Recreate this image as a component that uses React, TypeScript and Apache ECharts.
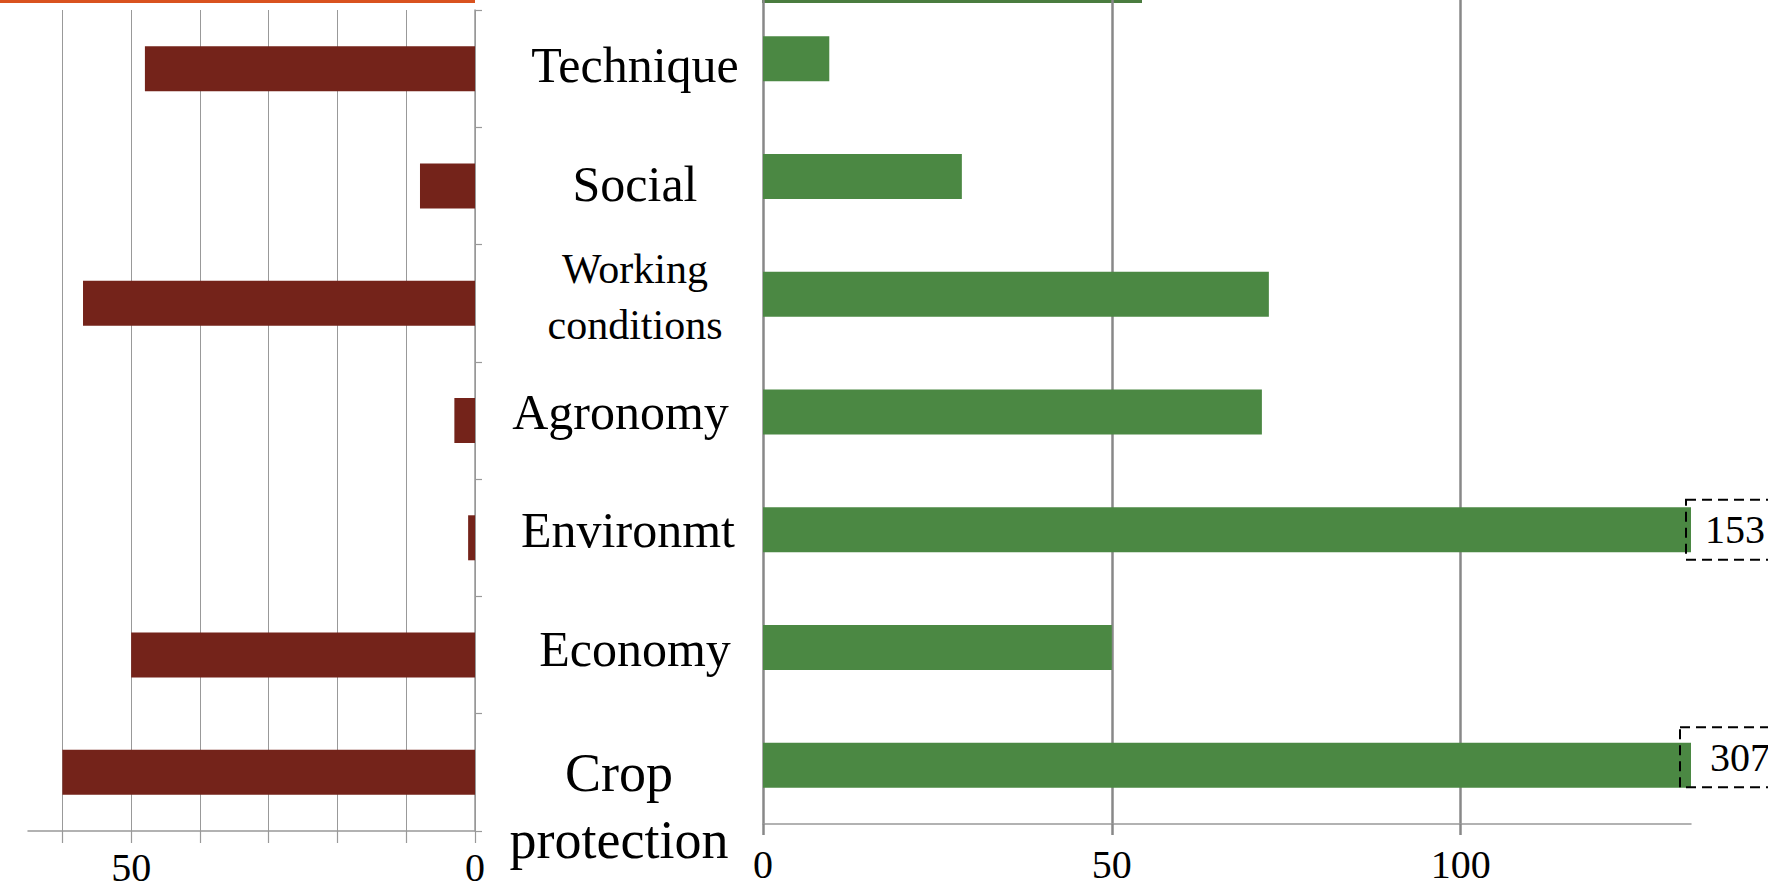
import React, { useEffect, useRef } from "react";
import * as echarts from "echarts";

const categories = [
  "Technique",
  "Social",
  "Working\nconditions",
  "Agronomy",
  "Environmt",
  "Economy",
  "Crop\nprotection",
];
const leftValues = [48, 8, 57, 3, 1, 50, 60];
const rightValues = [9.5, 28.5, 72.5, 71.5, 153, 50, 307];
const leftTicks = [0, 10, 20, 30, 40, 50, 60];
const leftLabels = [0, 50];
const rightTicks = [0, 50, 100];

const FONT = "Liberation Serif";
const BROWN = "#74231a";
const GREEN = "#4b8843";

// rich-text style per category (font size / small placement tweaks)
const labelStyleKeys = ["tq", "so", "wc", "ag", "en", "ec", "cp"];
const labelGapKeys = ["g12", "g14", "g6", "", "", "g4", "g83"];

function labelText(value: string, index: number) {
  const key = labelStyleKeys[index];
  const gap = labelGapKeys[index];
  const lines = value.split("\n").map((l) => `{${key}|${l}}`);
  return (gap ? `{${gap}| }\n` : "") + lines.join("\n");
}

export default function App() {
  const ref = useRef<HTMLDivElement>(null);

  useEffect(() => {
    if (!ref.current) return;
    const chart = echarts.init(ref.current, undefined, { renderer: "svg" });

    const base = { fontFamily: FONT, color: "#000" };
    const gapStyle = (h: number) => ({ fontSize: 1, lineHeight: h, fontFamily: FONT });

    const valueLabel = (distance: number, offsetY: number, padLeft: number) => ({
      show: true,
      position: "right",
      distance,
      offset: [0, offsetY],
      fontSize: 40,
      fontFamily: FONT,
      color: "#000",
      padding: [10, 40, 10, padLeft],
      borderColor: "#000",
      borderWidth: 2,
      borderType: [10, 6],
      formatter: "{c}",
    });

    const rightData = rightValues.map((v) => {
      if (v === 153) return { value: v, label: valueLabel(-5, 0, 19) };
      if (v === 307) return { value: v, label: valueLabel(-11, -8, 30) };
      return v;
    });

    chart.setOption({
      animation: false,
      backgroundColor: "#fff",
      grid: [
        { left: 28, right: 1768 - 475, top: 10, bottom: 893 - 831 },
        { left: 763, right: 1768 - 1691, top: 0, bottom: 893 - 824 },
      ],
      xAxis: [
        {
          type: "value",
          gridIndex: 0,
          inverse: true,
          min: 0,
          max: 65,
          interval: 10,
          axisLine: { show: true, lineStyle: { color: "#999", width: 1.5 } },
          axisTick: {
            show: true,
            customValues: leftTicks,
            length: 12,
            lineStyle: { color: "#999", width: 1.2 },
          },
          splitLine: {
            show: true,
            lineStyle: { color: "#999", width: 1 },
          },
          axisLabel: {
            customValues: leftLabels,
            fontSize: 40,
            fontFamily: FONT,
            color: "#000",
            margin: 16,
          },
        },
        {
          type: "value",
          gridIndex: 1,
          min: 0,
          max: 133,
          interval: 50,
          axisLine: { show: true, lineStyle: { color: "#999", width: 1.5 } },
          axisTick: {
            show: true,
            customValues: rightTicks,
            length: 11,
            lineStyle: { color: "#888", width: 2.5 },
          },
          splitLine: {
            show: true,
            lineStyle: { color: "#888", width: 2.5 },
          },
          axisLabel: {
            customValues: rightTicks,
            fontSize: 40,
            fontFamily: FONT,
            color: "#000",
            margin: 20,
          },
        },
      ],
      yAxis: [
        {
          type: "category",
          gridIndex: 0,
          inverse: true,
          position: "right",
          data: categories,
          axisLine: { show: true, lineStyle: { color: "#999", width: 1.5 } },
          axisTick: { show: true, length: 7, lineStyle: { color: "#999", width: 1.2 } },
          axisLabel: { show: false },
          splitLine: { show: false },
        },
        {
          type: "category",
          gridIndex: 1,
          inverse: true,
          data: categories,
          axisLine: { show: false },
          axisTick: { show: false },
          splitLine: { show: false },
          axisLabel: {
            interval: 0,
            margin: 128,
            align: "center",
            verticalAlign: "middle",
            fontSize: 50,
            fontFamily: FONT,
            color: "#000",
            formatter: (v: string, i: number) => labelText(v, i),
            rich: {
              tq: { ...base, fontSize: 50 },
              so: { ...base, fontSize: 50 },
              wc: { ...base, fontSize: 42, lineHeight: 56 },
              ag: { ...base, fontSize: 50, padding: [0, 29, 0, 0] },
              en: { ...base, fontSize: 50, padding: [0, 14, 0, 0] },
              ec: { ...base, fontSize: 50 },
              cp: { ...base, fontSize: 54, lineHeight: 67, padding: [0, 32, 0, 0] },
              g4: gapStyle(4),
              g6: gapStyle(6),
              g12: gapStyle(12),
              g14: gapStyle(14),
              g83: gapStyle(83),
            },
          },
        },
      ],
      series: [
        {
          type: "bar",
          xAxisIndex: 0,
          yAxisIndex: 0,
          data: leftValues,
          barWidth: 45,
          itemStyle: { color: BROWN },
        },
        {
          type: "bar",
          xAxisIndex: 1,
          yAxisIndex: 1,
          data: rightData,
          barWidth: 45,
          clip: true,
          itemStyle: { color: GREEN },
        },
      ],
      graphic: [
        {
          type: "rect",
          shape: { x: 0, y: 0, width: 475, height: 3 },
          style: { fill: "#d9521f" },
          silent: true,
        },
        {
          type: "rect",
          shape: { x: 762, y: 0, width: 380, height: 3 },
          style: { fill: "#4a7c3f" },
          silent: true,
        },
      ],
    });

    return () => chart.dispose();
  }, []);

  return (
    <div
      ref={ref}
      style={{
        position: "fixed",
        left: 0,
        top: 0,
        width: 1768,
        height: 893,
        background: "#fff",
      }}
    />
  );
}
